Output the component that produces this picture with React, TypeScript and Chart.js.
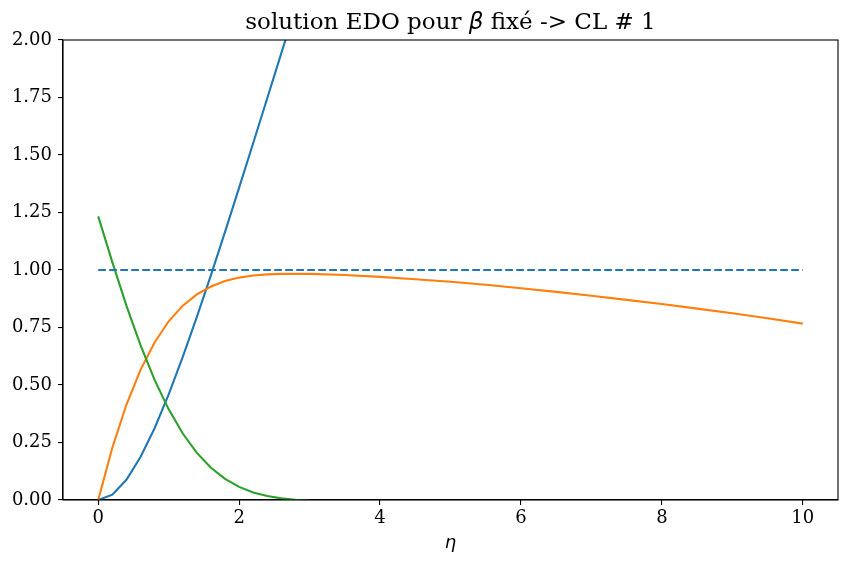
import React, { useEffect, useRef } from "react";
import { Chart, registerables } from "chart.js";

Chart.register(...registerables);

const etaFine = [0, 0.2, 0.4, 0.6, 0.8, 1.0, 1.2, 1.4, 1.6, 1.8, 2.0, 2.2, 2.4, 2.6, 2.8, 3.0];
const fValues = [0, 0.023, 0.088, 0.187, 0.312, 0.459, 0.622, 0.796, 0.978, 1.166, 1.358, 1.552, 1.748, 1.944, 2.14, 2.336];
const fppValues = [1.233, 1.034, 0.845, 0.673, 0.522, 0.394, 0.289, 0.205, 0.14, 0.092, 0.057, 0.033, 0.017, 0.007, 0.001, -0.003];

const etaOrange = [0, 0.2, 0.4, 0.6, 0.8, 1.0, 1.2, 1.4, 1.6, 1.8, 2.0, 2.2, 2.4, 2.6, 2.8, 3.0, 3.5, 4.0, 4.5, 5.0, 5.5, 6.0, 6.5, 7.0, 7.5, 8.0, 8.5, 9.0, 9.5, 10.0];
const fpValues = [0, 0.227, 0.414, 0.566, 0.685, 0.777, 0.845, 0.894, 0.928, 0.952, 0.967, 0.976, 0.981, 0.983, 0.984, 0.983, 0.978, 0.97, 0.96, 0.949, 0.936, 0.921, 0.905, 0.888, 0.87, 0.852, 0.832, 0.812, 0.79, 0.767];

const refEta = [0, 10];
const refValues = [1, 1];

const xTicks = [0, 2, 4, 6, 8, 10];
const yTicks = [0, 0.25, 0.5, 0.75, 1.0, 1.25, 1.5, 1.75, 2.0];

const titleParts = ["solution EDO pour ", "β", " fixé -> CL # 1"];
const xLabel = "η";

const SERIF = "'DejaVu Serif', serif";
const SANS = "'DejaVu Sans', sans-serif";

const toPts = (xs: number[], ys: number[]) => xs.map((x, i) => ({ x, y: ys[i] }));

const frameAndTitle = {
  id: "frameAndTitle",
  afterDraw(chart: any) {
    const { ctx, chartArea } = chart;
    const { left, right, top, bottom } = chartArea;
    ctx.save();
    ctx.strokeStyle = "#000";
    ctx.lineWidth = 1.1;
    ctx.strokeRect(left, top, right - left, bottom - top);
    const fonts = [`23px ${SERIF}`, `italic 23px ${SANS}`, `23px ${SERIF}`];
    let total = 0;
    const widths = titleParts.map((t, i) => {
      ctx.font = fonts[i];
      const w = ctx.measureText(t).width;
      total += w;
      return w;
    });
    let x = (left + right) / 2 - total / 2;
    ctx.fillStyle = "#000";
    ctx.textBaseline = "alphabetic";
    ctx.textAlign = "left";
    titleParts.forEach((t, i) => {
      ctx.font = fonts[i];
      ctx.fillText(t, x, 29);
      x += widths[i];
    });
    ctx.restore();
  },
};

export default function App() {
  const ref = useRef<HTMLCanvasElement>(null);
  useEffect(() => {
    document.body.style.margin = "0";
    const chart = new Chart(ref.current!, {
      type: "line",
      data: {
        datasets: [
          {
            data: toPts(etaFine, fValues),
            borderColor: "#1f77b4",
            borderWidth: 2.1,
            pointRadius: 0,
            tension: 0,
            order: 4,
          },
          {
            data: toPts(etaOrange, fpValues),
            borderColor: "#ff7f0e",
            borderWidth: 2.1,
            pointRadius: 0,
            tension: 0,
            order: 3,
          },
          {
            data: toPts(etaFine, fppValues),
            borderColor: "#2ca02c",
            borderWidth: 2.1,
            pointRadius: 0,
            tension: 0,
            order: 2,
          },
          {
            data: toPts(refEta, refValues),
            borderColor: "#1f77b4",
            borderWidth: 2.1,
            borderDash: [7.7, 3.3],
            pointRadius: 0,
            tension: 0,
            order: 1,
          },
        ],
      },
      options: {
        animation: false,
        responsive: false,
        events: [],
        layout: { padding: { top: 40, right: 10, left: 0, bottom: 0 } },
        plugins: { legend: { display: false }, tooltip: { enabled: false }, title: { display: false } },
        scales: {
          x: {
            type: "linear",
            min: -0.5,
            max: 10.5,
            afterBuildTicks: (s: any) => {
              s.ticks = xTicks.map((v) => ({ value: v }));
            },
            afterFit: (s: any) => {
              s.height = 63;
            },
            grid: { drawOnChartArea: false, drawTicks: true, tickLength: 5, color: "#000", lineWidth: 1.1 },
            border: { display: true, color: "#000", width: 1.1 },
            ticks: {
              color: "#000",
              font: { family: SERIF, size: 18 },
              padding: 3,
              maxRotation: 0,
              callback: (v: any) => String(v),
            },
            title: {
              display: true,
              text: xLabel,
              color: "#000",
              font: { family: SANS, size: 18, style: "italic" },
              padding: { top: 0, bottom: 9 },
            },
          },
          y: {
            type: "linear",
            min: 0,
            max: 2,
            afterBuildTicks: (s: any) => {
              s.ticks = yTicks.map((v) => ({ value: v }));
            },
            afterFit: (s: any) => {
              s.width = 63;
            },
            grid: { drawOnChartArea: false, drawTicks: true, tickLength: 5, color: "#000", lineWidth: 1.1 },
            border: { display: true, color: "#000", width: 1.1 },
            ticks: {
              color: "#000",
              font: { family: SERIF, size: 18 },
              padding: 6,
              callback: (v: any) => Number(v).toFixed(2),
            },
          },
        },
      },
      plugins: [frameAndTitle],
    });
    return () => chart.destroy();
  }, []);
  return <canvas ref={ref} width={848} height={563} style={{ display: "block" }} />;
}
